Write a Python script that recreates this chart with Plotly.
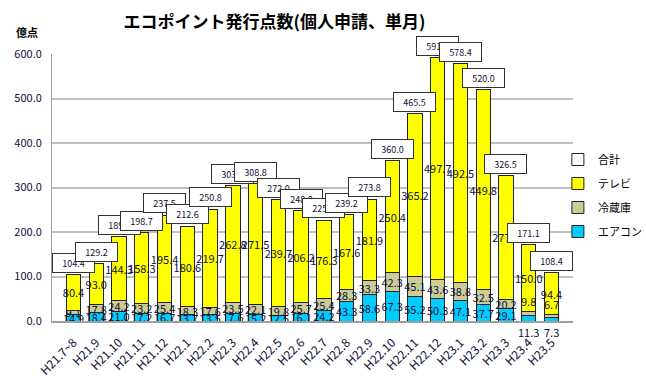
import plotly.graph_objects as go

categories = ["H21.7~8", "H21.9", "H21.10", "H21.11", "H21.12", "H22.1", "H22.2", "H22.3",
              "H22.4", "H22.5", "H22.6", "H22.7", "H22.8", "H22.9", "H22.10", "H22.11",
              "H22.12", "H23.1", "H23.2", "H23.3", "H23.4", "H23.5"]
aircon = [14.9, 18.4, 21.0, 17.2, 16.7, 13.7, 13.5, 17.6, 15.2, 12.5, 16.1, 24.2, 43.3, 58.6,
          67.3, 55.2, 50.3, 47.1, 37.7, 29.1, 11.3, 7.3]
fridge = [9.1, 17.8, 24.2, 23.2, 25.4, 18.3, 17.6, 23.5, 22.1, 19.8, 25.7, 25.4, 28.3, 33.3,
          42.3, 45.1, 43.6, 38.8, 32.5, 20.2, 9.8, 6.7]
tv = [80.4, 93.0, 144.3, 158.3, 195.4, 180.6, 219.7, 262.8, 271.5, 239.7, 206.2, 176.3, 167.6,
      181.9, 250.4, 365.2, 497.7, 492.5, 449.8, 277.2, 150.0, 94.4]
total = [104.4, 129.2, 189.5, 198.7, 237.5, 212.6, 250.8, 303.9, 308.8, 272.0, 248.0, 225.9,
         239.2, 273.8, 360.0, 465.5, 591.6, 578.4, 520.0, 326.5, 171.1, 108.4]
yticks = [0, 100, 200, 300, 400, 500, 600]

FONT = "Noto Sans CJK JP"
LBL = dict(family=FONT, size=11, color="#10103a")
n = len(categories)
small = [i for i in range(n) if aircon[i] < 12]  # tiny segments labelled outside

fig = go.Figure()
def bar(name, vals, color, texts, rank):
    fig.add_trace(go.Bar(
        name=name, legendgroup=name, legendrank=rank, x=categories, y=vals, text=texts,
        textposition="inside", insidetextanchor="middle", textangle=0, constraintext="none",
        textfont=LBL, marker=dict(color=color, line=dict(color="#222222", width=1)),
        hoverinfo="skip"))

bar("エアコン", aircon, "#00CCFF",
    ["" if i in small else f"{v:.1f}" for i, v in enumerate(aircon)], 4)
bar("冷蔵庫", fridge, "#CCCC99",
    ["" if i in small else f"{v:.1f}" for i, v in enumerate(fridge)], 3)
bar("テレビ", tv, "#FFFF00", [f"{v:.1f}" for v in tv], 2)
bar("合計", [None] * n, "#FFFFFF", None, 1)

annotations = []
for c, t in zip(categories, total):
    annotations.append(dict(
        x=c, y=t, xref="x", yref="y", text=f"{t:.1f}", showarrow=False,
        yanchor="bottom", yshift=2, bgcolor="#FFFFFF", bordercolor="#333333",
        borderwidth=1, width=37, height=14, borderpad=2,
        font=dict(family=FONT, size=9, color="#10103a")))
for i in small:
    annotations.append(dict(
        x=categories[i], y=0, xref="x", yref="y", text=f"{aircon[i]:.1f}",
        showarrow=False, yanchor="top", yshift=-1, font=LBL))
    annotations.append(dict(
        x=categories[i], y=aircon[i] + fridge[i], xref="x", yref="y",
        text=f"{fridge[i]:.1f}", showarrow=False, yanchor="bottom", yshift=1, font=LBL))

annotations.append(dict(x=-0.048, y=1.083, xref="paper", yref="paper", text="<b>億点</b>",
                        xanchor="center", yanchor="middle",
                        showarrow=False, font=dict(family=FONT, size=11, color="#000")))

fig.update_layout(
    width=646, height=386,
    margin=dict(l=52, r=73, t=54, b=65, autoexpand=False),
    paper_bgcolor="#FFFFFF", plot_bgcolor="#FFFFFF",
    barmode="stack", bargap=0.37,
    title=dict(text="<b>エコポイント発行点数(個人申請、単月)</b>", x=0.425, xanchor="center",
               y=0.943, yanchor="middle", font=dict(family=FONT, size=17, color="#000")),
    font=dict(family=FONT, size=11, color="#10103a"),
    showlegend=True,
    legend=dict(x=0.971, y=0.47, xanchor="left", yanchor="middle",
                traceorder="grouped", tracegroupgap=5,
                font=dict(family=FONT, size=11, color="#000"), itemwidth=30,
                bgcolor="rgba(0,0,0,0)"),
    xaxis=dict(type="category", tickangle=-45, showgrid=False, ticks="",
               showline=True, linecolor="#A0A0A0", linewidth=2, ticklabelstandoff=8,
               tickfont=dict(family=FONT, size=12, color="#10103a")),
    yaxis=dict(range=[0, 600], tickvals=yticks, ticktext=[f"{v:.1f}" for v in yticks],
               showgrid=True, gridcolor="#BFBFBF", gridwidth=2, zeroline=False,
               showline=True, linecolor="#A0A0A0", linewidth=1, ticks="",
               ticklabelstandoff=7,
               tickfont=dict(family=FONT, size=11, color="#10103a")),
    annotations=annotations,
)

fig.write_html("out.html", config={"displayModeBar": False},
               post_script="document.body.style.margin='0';")
